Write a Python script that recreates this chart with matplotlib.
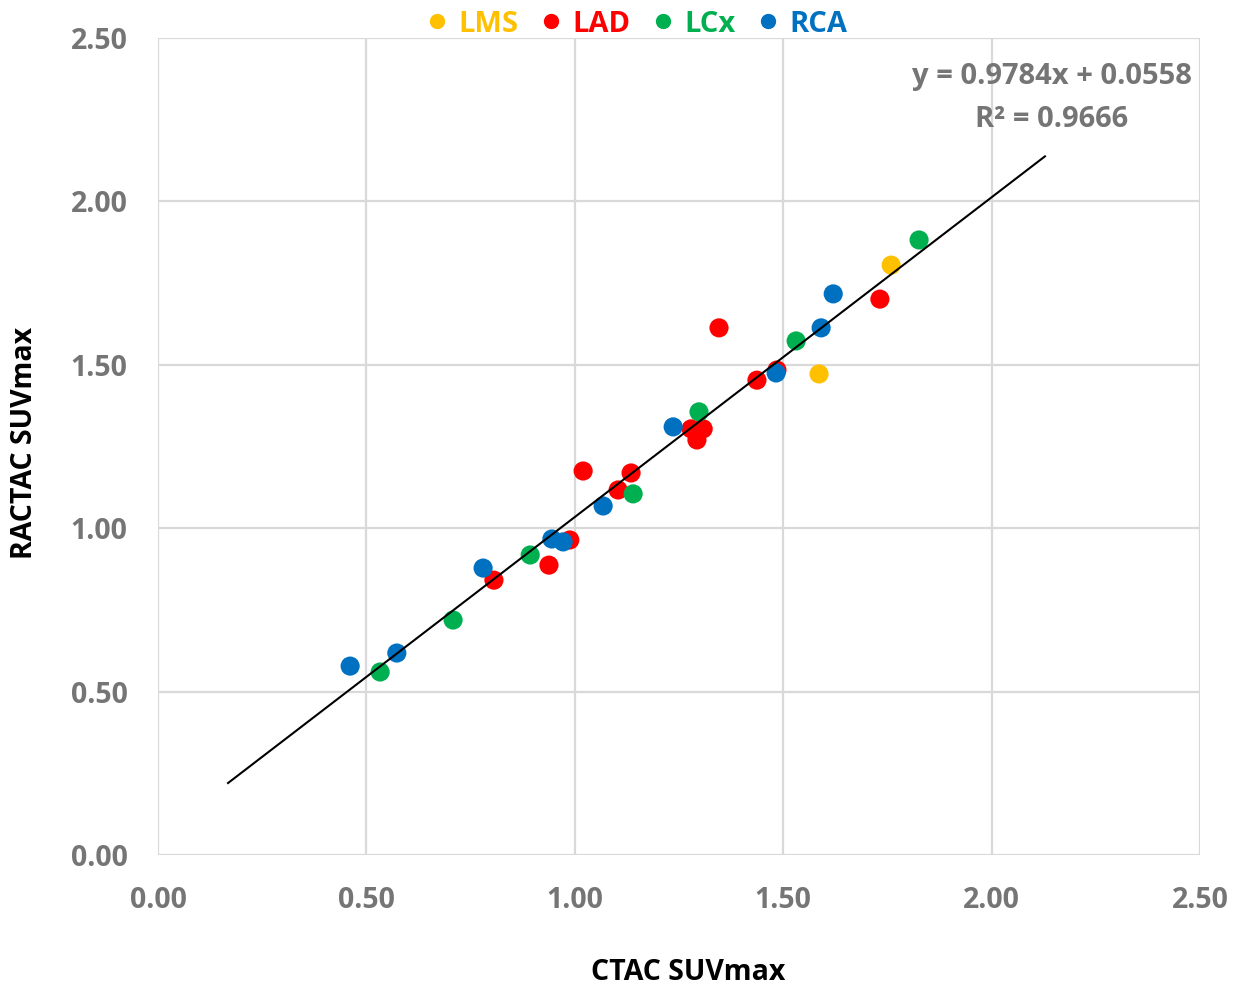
import matplotlib
matplotlib.use("Agg")
import matplotlib.pyplot as plt
from matplotlib.lines import Line2D

# Data (CTAC SUVmax, RACTAC SUVmax) by vessel
lms_x = [1.586, 1.759]
lms_y = [1.472, 1.805]

lad_x = [0.806, 0.938, 0.988, 1.020, 1.104, 1.135, 1.279, 1.308, 1.293, 1.346, 1.437, 1.485, 1.732]
lad_y = [0.841, 0.887, 0.964, 1.175, 1.117, 1.169, 1.304, 1.304, 1.270, 1.613, 1.453, 1.484, 1.701]

lcx_x = [0.533, 0.708, 0.893, 1.140, 1.298, 1.531, 1.826]
lcx_y = [0.560, 0.719, 0.918, 1.105, 1.356, 1.573, 1.882]

rca_x = [0.461, 0.573, 0.780, 0.945, 0.972, 1.068, 1.236, 1.483, 1.591, 1.620]
rca_y = [0.578, 0.618, 0.878, 0.967, 0.958, 1.068, 1.310, 1.475, 1.613, 1.717]

series_names = ["LMS", "LAD", "LCx", "RCA"]
series_colors = ["#FFC000", "#FF0000", "#00B050", "#0070C0"]

slope = 0.9784
intercept = 0.0558
r2 = 0.9666
fit_x = [0.168, 2.128]

tick_vals = [0.0, 0.5, 1.0, 1.5, 2.0, 2.5]
tick_labels = ["0.00", "0.50", "1.00", "1.50", "2.00", "2.50"]

GRAY = "#757575"
FONT = "Open Sans"

fig = plt.figure(figsize=(12.35, 9.9), dpi=100)
ax = fig.add_axes([158/1235, 1-855/990, (1200-158)/1235, (855-38)/990])

for xs, ys, c in zip([lms_x, lad_x, lcx_x, rca_x], [lms_y, lad_y, lcx_y, rca_y], series_colors):
    ax.scatter(xs, ys, s=190, color=c, edgecolors="none", zorder=3)

fy = [slope * v + intercept for v in fit_x]
ax.plot(fit_x, fy, color="black", lw=1.5, zorder=4)

ax.set_xlim(0, 2.5)
ax.set_ylim(0, 2.5)
ax.set_xticks(tick_vals)
ax.set_xticklabels(tick_labels)
ax.set_yticks(tick_vals)
ax.set_yticklabels(tick_labels)
for s in ax.spines.values():
    s.set_visible(False)
ax.grid(True, color="#d9d9d9", lw=1.6, zorder=0)
ax.set_axisbelow(True)
ax.tick_params(axis="both", length=0, labelsize=20.5, labelcolor=GRAY)
ax.tick_params(axis="x", pad=22)
ax.tick_params(axis="y", pad=22)
for lab in ax.get_xticklabels() + ax.get_yticklabels():
    lab.set_fontfamily(FONT)
    lab.set_fontweight("bold")

fig.text(688/1235, 1-973/990, "CTAC SUVmax", ha="center", va="center",
         fontsize=20.5, fontweight="bold", family=FONT, color="black")
fig.text(25/1235, 1-443/990, "RACTAC SUVmax", ha="center", va="center", rotation=90,
         fontsize=20.5, fontweight="bold", family=FONT, color="black")

fig.text(1052/1235, 1-98/990, f"y = {slope:.4f}x + {intercept:.4f}\nR² = {r2:.4f}",
         ha="center", va="center", multialignment="center", linespacing=1.6,
         fontsize=21, fontweight="bold", family=FONT, color=GRAY)

handles = [Line2D([], [], marker="o", ls="none", color=c, markersize=10) for c in series_colors]
leg = fig.legend(handles, series_names, loc="center", bbox_to_anchor=(635/1235, 1-24/990),
                 ncol=4, frameon=False, handletextpad=0.25, columnspacing=0.6,
                 handlelength=1.0, prop={"family": FONT, "weight": "bold", "size": 21},
                 labelcolor=series_colors)

fig.savefig("out.png", dpi=100)
